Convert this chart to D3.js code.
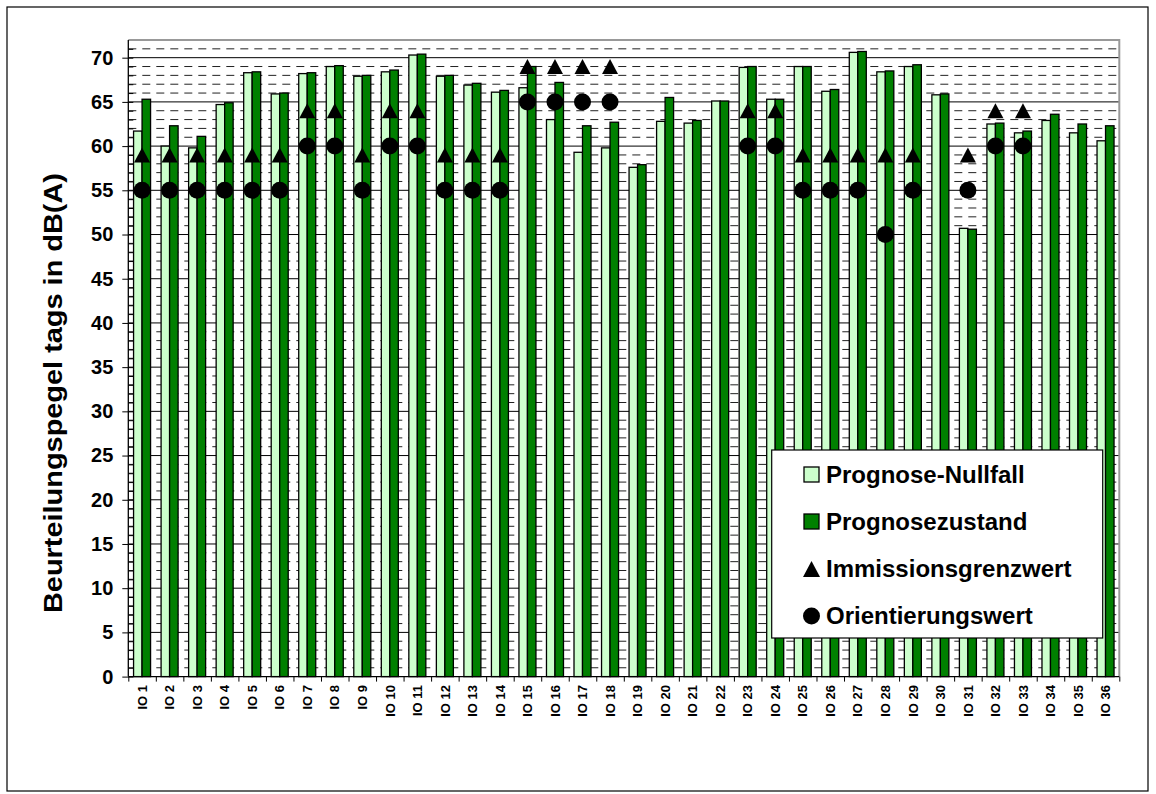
<!DOCTYPE html>
<html>
<head>
<meta charset="utf-8">
<script src="https://cdn.jsdelivr.net/npm/d3@7"></script>
<style>
  body { margin: 0; background: #fff; }
  svg { display: block; }
  text { font-family: Arial, "Liberation Sans", sans-serif; font-weight: bold; fill: #000; }
</style>
</head>
<body>
<svg id="chart" width="1156" height="794"></svg>
<script>
// Immissionsorte
const categories = ["IO 1","IO 2","IO 3","IO 4","IO 5","IO 6","IO 7","IO 8","IO 9","IO 10",
  "IO 11","IO 12","IO 13","IO 14","IO 15","IO 16","IO 17","IO 18","IO 19","IO 20",
  "IO 21","IO 22","IO 23","IO 24","IO 25","IO 26","IO 27","IO 28","IO 29","IO 30",
  "IO 31","IO 32","IO 33","IO 34","IO 35","IO 36"];

// Beurteilungspegel tags in dB(A)
const nullfall = [61.7, 60.0, 59.8, 64.7, 68.3, 65.9, 68.2, 69.0, 67.9, 68.4,
  70.3, 67.9, 66.9, 66.1, 66.6, 63.0, 59.3, 59.8, 57.6, 62.8,
  62.6, 65.1, 68.9, 65.3, 69.0, 66.2, 70.6, 68.4, 69.0, 65.8,
  50.7, 62.5, 61.5, 62.9, 61.5, 60.6];
const zustand = [65.3, 62.3, 61.1, 64.9, 68.4, 66.0, 68.3, 69.1, 68.0, 68.6,
  70.4, 68.0, 67.1, 66.3, 69.0, 67.2, 62.3, 62.7, 57.9, 65.5,
  62.9, 65.1, 69.0, 65.3, 69.0, 66.4, 70.7, 68.5, 69.2, 65.9,
  50.6, 62.6, 61.7, 63.6, 62.5, 62.3];
const grenzwert = [59, 59, 59, 59, 59, 59, 64, 64, 59, 64,
  64, 59, 59, 59, 69, 69, 69, 69, null, null,
  null, null, 64, 64, 59, 59, 59, 59, 59, null,
  59, 64, 64, null, null, null];
const orientierung = [55, 55, 55, 55, 55, 55, 60, 60, 55, 60,
  60, 55, 55, 55, 65, 65, 65, 65, null, null,
  null, null, 60, 60, 55, 55, 55, 50, 55, null,
  55, 60, 60, null, null, null];

const seriesNames = ["Prognose-Nullfall", "Prognosezustand"];
const seriesColors = ["#CCFFCC", "#008000"];
const yMajorTicks = [0, 5, 10, 15, 20, 25, 30, 35, 40, 45, 50, 55, 60, 65, 70];
const yTitle = "Beurteilungspegel tags in dB(A)";

const svg = d3.select("#chart");

// outer chart frame
svg.append("rect")
  .attr("x", 7).attr("y", 7).attr("width", 1141).attr("height", 784)
  .attr("fill", "#fff").attr("stroke", "#000").attr("stroke-width", 1.2);

const plot = { left: 128.3, right: 1119.3, top: 40, bottom: 676.6 };

const x = d3.scaleBand().domain(categories).range([plot.left, plot.right]).padding(0);
const y = d3.scaleLinear().domain([0, 72]).range([plot.bottom, plot.top]);
const groupW = 17;
const xs = d3.scaleBand().domain(seriesNames)
  .range([(x.bandwidth() - groupW) / 2, (x.bandwidth() + groupW) / 2]).padding(0);

// gridlines: solid every 5 dB, dashed every 1 dB
const gridVals = d3.range(1, 72);
svg.append("g").selectAll("line").data(gridVals).join("line")
  .attr("x1", plot.left).attr("x2", plot.right)
  .attr("y1", d => y(d)).attr("y2", d => y(d))
  .attr("stroke", d => d % 5 === 0 ? "#000" : "#222")
  .attr("stroke-width", 1)
  .attr("stroke-dasharray", d => d % 5 === 0 ? null : "8,6");

// plot border top / right
svg.append("path")
  .attr("d", `M${plot.left},${plot.top}H${plot.right}V${plot.bottom}`)
  .attr("fill", "none").attr("stroke", "#999").attr("stroke-width", 2);

// bars
const rows = categories.map((c, i) => ({ cat: c, vals: [nullfall[i], zustand[i]] }));
const groups = svg.append("g").selectAll("g").data(rows).join("g")
  .attr("transform", d => `translate(${x(d.cat)},0)`);
groups.selectAll("rect").data(d => d.vals.map((v, k) => ({ key: seriesNames[k], v, k }))).join("rect")
  .attr("x", d => xs(d.key))
  .attr("width", xs.bandwidth())
  .attr("y", d => y(d.v))
  .attr("height", d => y(0) - y(d.v))
  .attr("fill", d => seriesColors[d.k])
  .attr("stroke", "#000").attr("stroke-width", 1.3);

// y axis: major ticks outside with labels, minor ticks inside
const yAxis = svg.append("g").attr("transform", `translate(${plot.left},0)`)
  .call(d3.axisLeft(y).tickValues(yMajorTicks).tickSize(6).tickPadding(9).tickFormat(d3.format("d")));
yAxis.selectAll("text").style("font-size", "20px");
yAxis.select(".domain").remove();
svg.append("g").attr("transform", `translate(${plot.left},0)`)
  .call(d3.axisRight(y).tickValues(d3.range(0, 72)).tickSize(5).tickFormat(""))
  .call(g => g.select(".domain").remove());
yAxis.selectAll("line").attr("stroke", "#000");

// x axis: boundary ticks and rotated labels
const xb = d3.scaleLinear().domain([0, categories.length]).range([plot.left, plot.right]);
svg.append("g").attr("transform", `translate(0,${plot.bottom})`)
  .call(d3.axisBottom(xb).tickValues(d3.range(0, categories.length + 1)).tickSize(5).tickFormat(""))
  .call(g => g.select(".domain").remove());
svg.append("g").selectAll("text").data(categories).join("text")
  .attr("transform", d => `translate(${x(d) + x.bandwidth() / 2},685) rotate(-90)`)
  .attr("text-anchor", "end").attr("dy", "0.36em")
  .style("font-size", "13px")
  .text(d => d);

// axis lines
svg.append("line").attr("x1", plot.left).attr("x2", plot.left)
  .attr("y1", plot.top).attr("y2", plot.bottom).attr("stroke", "#000").attr("stroke-width", 1.3);
svg.append("line").attr("x1", plot.left).attr("x2", plot.right)
  .attr("y1", plot.bottom).attr("y2", plot.bottom).attr("stroke", "#000").attr("stroke-width", 1.3);

// markers
const triPath = (cx, cy, w, h) => `M${cx - w / 2},${cy + h / 2}L${cx + w / 2},${cy + h / 2}L${cx},${cy - h / 2}Z`;
svg.append("g").selectAll("path")
  .data(categories.map((c, i) => ({ c, v: grenzwert[i] })).filter(d => d.v != null))
  .join("path")
  .attr("d", d => triPath(x(d.c) + x.bandwidth() / 2, y(d.v), 16, 15))
  .attr("fill", "#000");
svg.append("g").selectAll("circle")
  .data(categories.map((c, i) => ({ c, v: orientierung[i] })).filter(d => d.v != null))
  .join("circle")
  .attr("cx", d => x(d.c) + x.bandwidth() / 2)
  .attr("cy", d => y(d.v))
  .attr("r", 8.5)
  .attr("fill", "#000");

// y axis title
svg.append("text")
  .attr("transform", "translate(62,393) rotate(-90)")
  .attr("text-anchor", "middle")
  .style("font-size", "25px")
  .attr("textLength", 440).attr("lengthAdjust", "spacingAndGlyphs")
  .text(yTitle);

// legend
const legend = svg.append("g");
legend.append("rect")
  .attr("x", 771.7).attr("y", 450).attr("width", 331).attr("height", 188)
  .attr("fill", "#fff").attr("stroke", "#000").attr("stroke-width", 1.2);
const legendItems = [
  { label: seriesNames[0], type: "rect", color: seriesColors[0] },
  { label: seriesNames[1], type: "rect", color: seriesColors[1] },
  { label: "Immissionsgrenzwert", type: "tri" },
  { label: "Orientierungswert", type: "circle" }
];
const baselines = [482.5, 529.5, 577, 624];
legendItems.forEach((it, i) => {
  const by = baselines[i];
  const cy = by - 8;
  if (it.type === "rect") {
    legend.append("rect").attr("x", 804).attr("y", cy - 7.5).attr("width", 15).attr("height", 15)
      .attr("fill", it.color).attr("stroke", "#000").attr("stroke-width", 1.3);
  } else if (it.type === "tri") {
    legend.append("path").attr("d", triPath(811.5, cy, 17, 16)).attr("fill", "#000");
  } else {
    legend.append("circle").attr("cx", 811.5).attr("cy", cy).attr("r", 8.5).attr("fill", "#000");
  }
  legend.append("text").attr("x", 826).attr("y", by).style("font-size", "24px").text(it.label);
});
</script>
</body>
</html>
